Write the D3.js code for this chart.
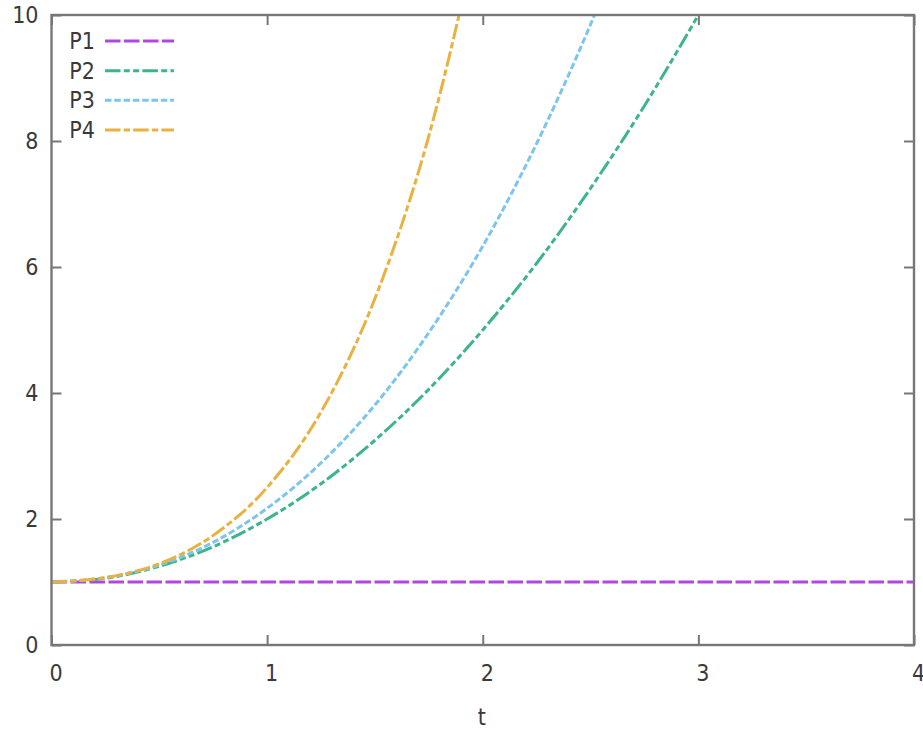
<!DOCTYPE html>
<html>
<head>
<meta charset="utf-8">
<script src="https://cdn.jsdelivr.net/npm/d3@7"></script>
<style>
  html, body { margin: 0; padding: 0; background: #ffffff; }
  svg { display: block; }
  text { font-family: "DejaVu Sans Condensed", "DejaVu Sans", sans-serif; font-stretch: condensed; fill: #3a3a3a; }
</style>
</head>
<body>
<svg id="chart" width="923" height="730"></svg>
<script>
// ---- data ----
const seriesNames = ["P1", "P2", "P3", "P4"];
const p1T = [0, 4];
const p1Y = [1, 1];
const p2T = [0, 0.25, 0.5, 0.75, 1, 1.25, 1.5, 1.75, 2, 2.25, 2.5, 2.75, 3];
const p2Y = [1, 1.06, 1.25, 1.56, 2.0, 2.56, 3.25, 4.06, 5.0, 6.06, 7.25, 8.56, 10.0];
const p3T = [0, 0.25, 0.5, 0.75, 1, 1.25, 1.5, 1.75, 2, 2.25, 2.5, 2.75];
const p3Y = [1, 1.07, 1.27, 1.63, 2.17, 2.89, 3.81, 4.96, 6.33, 7.96, 9.85, 12.0];
const p4T = [0, 0.25, 0.5, 0.75, 1, 1.25, 1.5, 1.75, 2];
const p4Y = [1, 1.07, 1.29, 1.74, 2.50, 3.70, 5.50, 8.08, 11.67];
const xTicks = [0, 1, 2, 3, 4];
const yTicks = [0, 2, 4, 6, 8, 10];
const xLabel = "t";

// ---- styles ----
const colors = ["#b146e2", "#3db58c", "#7cc5ee", "#e9b13f"];
const dashes = ["15.5,3.5", "15.5,3.3,6,3.3,6,3.3", "6.5,2.8", "15.5,3.2,6.3,3.2"];

const svg = d3.select("#chart");
const L = 51.5, R = 914, T = 15, B = 645;
const x = d3.scaleLinear().domain([0, 4]).range([L, R]);
const y = d3.scaleLinear().domain([0, 10]).range([B, T]);

svg.append("defs").append("clipPath").attr("id", "clip")
  .append("rect").attr("x", L).attr("y", T).attr("width", R - L).attr("height", B - T);

const series = [
  { name: seriesNames[0], t: p1T, v: p1Y },
  { name: seriesNames[1], t: p2T, v: p2Y },
  { name: seriesNames[2], t: p3T, v: p3Y },
  { name: seriesNames[3], t: p4T, v: p4Y }
];

const line = d3.line().x(d => x(d[0])).y(d => y(d[1])).curve(d3.curveMonotoneX);

const g = svg.append("g").attr("clip-path", "url(#clip)");
series.forEach((s, i) => {
  g.append("path")
    .datum(s.t.map((t, j) => [t, s.v[j]]))
    .attr("d", line)
    .attr("fill", "none")
    .attr("stroke", colors[i])
    .attr("stroke-width", 3)
    .attr("stroke-dasharray", dashes[i]);
});

// ---- axes (gnuplot-like frame with inward mirrored ticks) ----
const axColor = "#777777";
const tickLen = 10;
const axB = svg.append("g").attr("transform", `translate(0,${B})`)
  .call(d3.axisBottom(x).tickValues(xTicks).tickSize(-tickLen).tickPadding(20).tickFormat(d3.format("d")));
const axT = svg.append("g").attr("transform", `translate(0,${T})`)
  .call(d3.axisTop(x).tickValues(xTicks).tickSize(-tickLen).tickFormat(""));
const axL = svg.append("g").attr("transform", `translate(${L},0)`)
  .call(d3.axisLeft(y).tickValues(yTicks).tickSize(-tickLen).tickPadding(14).tickFormat(d3.format("d")));
const axR = svg.append("g").attr("transform", `translate(${R},0)`)
  .call(d3.axisRight(y).tickValues(yTicks).tickSize(-tickLen).tickFormat(""));

[axB, axT, axL, axR].forEach(a => {
  a.select(".domain").remove();
  a.selectAll(".tick line").attr("stroke", axColor).attr("stroke-width", 2);
  a.selectAll(".tick text").attr("fill", "#3a3a3a").style("font-size", "23px");
});
axB.selectAll(".tick text").attr("dx", 4).attr("dy", "0.71em");
axL.selectAll(".tick text").attr("dx", 1);

svg.append("rect").attr("x", L).attr("y", T).attr("width", R - L).attr("height", B - T)
  .attr("fill", "none").attr("stroke", axColor).attr("stroke-width", 2.4);

svg.append("text").attr("x", x(2) - 1).attr("y", 717).attr("dy", "0.35em")
  .attr("text-anchor", "middle").style("font-size", "23px").text(xLabel);

// ---- legend ----
const legY = d3.scalePoint().domain(seriesNames).range([41, 130]);
const leg = svg.append("g");
series.forEach((s, i) => {
  const yy = legY(s.name);
  leg.append("text").attr("x", 95).attr("y", yy).attr("dy", "0.35em")
    .attr("text-anchor", "end").style("font-size", "23px").text(s.name);
  leg.append("line").attr("x1", 105).attr("x2", 174).attr("y1", yy).attr("y2", yy)
    .attr("stroke", colors[i]).attr("stroke-width", 3).attr("stroke-dasharray", dashes[i]);
});
</script>
</body>
</html>
